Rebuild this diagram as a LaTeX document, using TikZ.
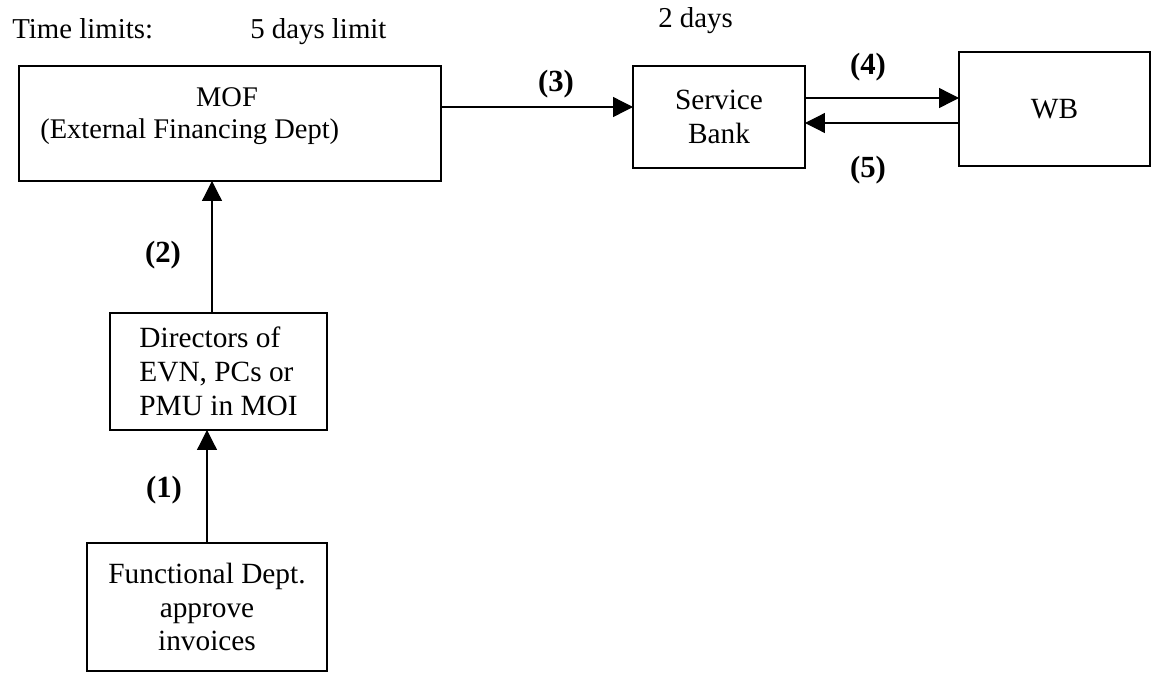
\documentclass[tikz,border=0pt]{standalone}
\usepackage{fontspec}
\setmainfont{Liberation Serif}
\usetikzlibrary{arrows.meta,calc}

\begin{document}
\begin{tikzpicture}[x=0.02cm,y=-0.02cm,
  font=\fontsize{16.7}{19.3}\selectfont,
  box/.style={draw,line width=0.7pt,inner sep=0pt,outer sep=0pt},
  head/.style={anchor=base west,inner sep=0pt,font=\fontsize{16.4}{19}\selectfont},
  num/.style={font=\fontsize{17.5}{19}\selectfont\bfseries,anchor=base,inner sep=0pt},
  arr/.style={line width=0.7pt,-{Triangle[length=0.4cm,width=0.4cm]}}]

\useasboundingbox (0,0) rectangle (1151,676);

\node[head] (limits) at (12,38) {Time limits:};
\node[head] (fivedays) at (250,38) {5 days limit};
\node[head] (twodays) at (658,28) {2 days};

\node[box,minimum width=8.44cm,minimum height=2.3cm] (mof) at (230,123.5) {};
\node[anchor=base,inner sep=0pt,font=\fontsize{16.2}{19}\selectfont] (moftitle) at (227,106) {MOF};
\node[anchor=base west,inner sep=0pt,font=\fontsize{16.2}{19}\selectfont] (mofdept) at (40,138) {(External Financing Dept)};

\node[box,align=center,minimum width=3.44cm,minimum height=2.04cm] (bank) at (719,117) {Service\\Bank};
\node[box,minimum width=3.82cm,minimum height=2.28cm] (wb) at (1054.5,109) {WB};
\node[box,align=left,minimum width=4.34cm,minimum height=2.34cm] (dir) at (218.5,371.5) {Directors of\\EVN, PCs or\\PMU in MOI};
\node[box,align=center,minimum width=4.8cm,minimum height=2.56cm] (fun) at (207,607) {Functional Dept.\\approve\\invoices};

\draw[arr] (fun.north) -- (fun.north |- dir.south);
\draw[arr] ([xshift=-0.13cm]dir.north) -- ([xshift=-0.13cm]dir.north |- mof.south);
\draw[arr] ([yshift=0.33cm]mof.east) -- ([yshift=0.33cm]mof.east -| bank.west);
\draw[arr] ([yshift=0.38cm]bank.east) -- ([yshift=0.38cm]bank.east -| wb.west);
\draw[arr] ([yshift=-0.12cm]bank.east -| wb.west) -- ([yshift=-0.12cm]bank.east);

\node[num] (n1) at (164,497) {(1)};
\node[num] (n2) at (163,262) {(2)};
\node[num] (n3) at (556,91) {(3)};
\node[num] (n4) at (868,74) {(4)};
\node[num] (n5) at (868,177) {(5)};

\end{tikzpicture}
\end{document}
